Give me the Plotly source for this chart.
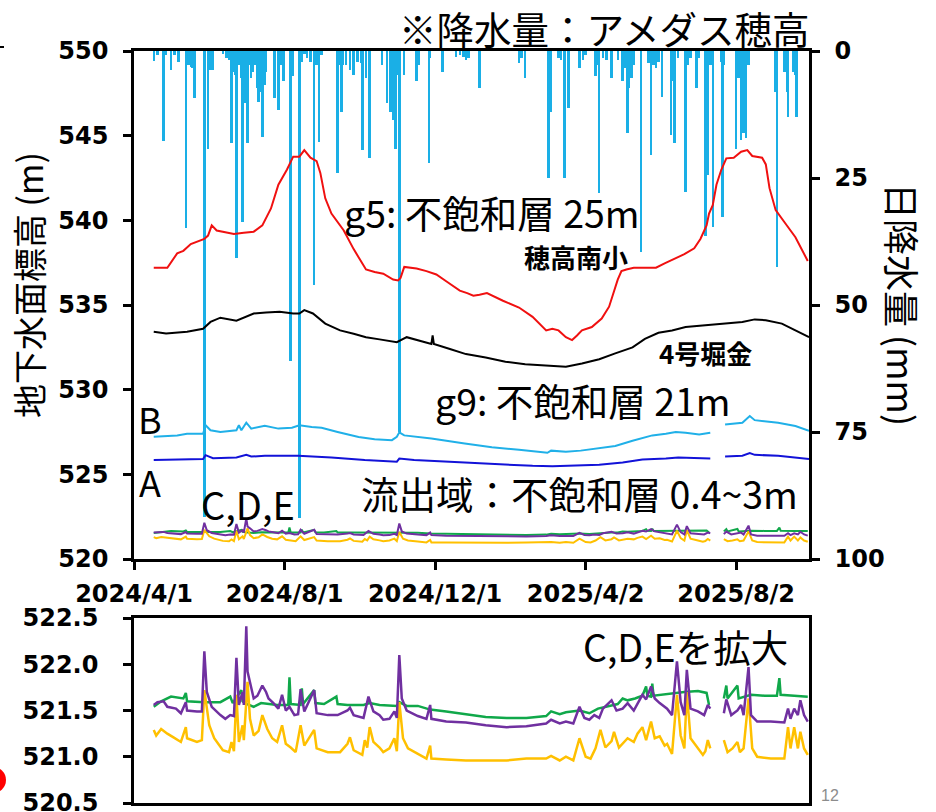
import pandas as pd
import plotly.graph_objects as go

START = pd.Timestamp("2024-04-01")
END_DAY = 547


def to_dates(days):
    return [START + pd.Timedelta(days=d) for d in days]


# ---- daily precipitation, AMeDAS Hotaka (days since 2024-04-01, mm) ----
rain_day = [16, 19, 24, 26, 30, 33, 36, 42, 44, 46, 47, 49, 57, 60, 62, 64, 72, 75, 77, 79,
            80, 82, 83, 85, 87, 88, 90, 92, 93, 95, 96, 98, 100, 101, 103, 104, 106, 107, 114, 117,
            119, 121, 127, 129, 134, 136, 138, 140, 143, 146, 148, 150, 152, 165, 166, 168, 169, 172, 175, 178,
            181, 184, 185, 188, 191, 201, 205, 208, 210, 212, 213, 215, 219, 229, 231, 239, 240, 250, 261, 264,
            267, 269, 271, 280, 312, 314, 317, 336, 338, 344, 346, 349, 352, 361, 364, 366, 374, 375, 377, 380,
            383, 387, 392, 396, 398, 400, 401, 403, 405, 411, 417, 419, 421, 423, 425, 428, 435, 437, 438, 441,
            447, 449, 451, 456, 458, 463, 465, 467, 469, 476, 477, 478, 488, 490, 492, 494, 496, 498, 520, 521,
            527, 529, 530, 534, 536, 537]
rain_mm = [2.0, 0.8, 17.8, 0.8, 3.7, 0.7, 2.1, 34.8, 2.8, 3.1, 3.4, 9.2, 91.7, 19.2, 3.7, 3.7, 0.5, 1.4, 1.8, 18.2,
           4.1, 4.7, 40.8, 2.8, 5.4, 33.6, 10.3, 18.2, 2.8, 5.4, 4.1, 2.8, 7.3, 10.0, 8.0, 17.0, 6.7, 4.1, 9.3, 11.6,
           2.8, 6.0, 61.0, 5.0, 92.0, 2.1, 0.5, 1.4, 2.1, 46.0, 2.8, 18.0, 0.8, 24.0, 2.8, 12.0, 2.8, 2.8, 3.7, 4.7,
           2.1, 2.4, 19.5, 5.4, 21.1, 2.8, 10.3, 12.0, 13.6, 19.2, 4.7, 75.0, 4.7, 6.0, 2.8, 22.1, 1.4, 4.1, 1.1, 0.8,
           1.1, 1.8, 1.4, 7.3, 2.4, 1.4, 5.4, 25.0, 12.0, 1.4, 1.8, 25.0, 11.3, 3.4, 1.8, 0.8, 5.0, 2.8, 28.0, 1.4,
           1.8, 5.4, 1.8, 6.0, 3.4, 16.2, 7.3, 5.4, 2.8, 39.5, 2.4, 20.5, 2.8, 3.4, 2.1, 9.0, 16.5, 6.0, 18.2, 1.4,
           27.7, 2.8, 1.4, 7.3, 1.4, 36.5, 24.4, 2.8, 34.6, 2.1, 32.6, 2.8, 19.2, 5.4, 17.5, 16.2, 17.2, 2.8, 8.0, 42.5,
           4.1, 8.0, 12.9, 4.1, 4.7, 12.9]

# ---- g5 (unsaturated zone 25 m, Hotaka-minami elementary school) ----
g5_day = [16, 27, 35, 40, 46, 57, 60, 63, 67, 81, 89, 97, 104, 111, 117, 124, 129, 134, 138, 143,
          148, 151, 155, 160, 170, 178, 188, 195, 202, 210, 214, 216, 219, 229, 237, 245, 253, 264, 270, 275,
          280, 286, 299, 312, 323, 334, 339, 344, 350, 355, 359, 363, 371, 379, 385, 389, 392, 395, 399, 405,
          415, 423, 430, 438, 446, 454, 459, 464, 466, 469, 472, 476, 480, 486, 492, 497, 501, 509, 512, 515,
          520, 527, 536, 546]
g5_lvl = [537.2, 537.2, 538.05, 538.2, 538.6, 538.9, 539.1, 539.7, 539.4, 539.2, 539.27, 539.33, 539.7, 540.7, 542.1, 543.0, 543.76, 543.76, 544.15, 543.7,
          543.5, 542.8, 541.3, 540.4, 539.4, 538.3, 537.1, 536.95, 536.85, 536.5, 536.45, 536.6, 537.25, 537.15, 537.0, 536.8, 536.4, 535.85, 535.7, 535.55,
          535.6, 535.7, 535.25, 534.85, 534.3, 533.5, 533.6, 533.5, 533.1, 532.93, 533.2, 533.5, 533.7, 534.2, 534.9, 535.8, 536.5, 537.0, 537.1, 537.2,
          537.2, 537.2, 537.46, 537.75, 538.0, 538.35, 538.9, 539.7, 540.4, 540.9, 542.1, 543.0, 543.66, 543.7, 544.05, 544.15, 543.8, 543.7, 543.3, 541.9,
          540.6, 539.9, 539.0, 537.6]

# ---- g9 (unsaturated zone 21 m, Route 4 Horigane) ----
g9_day = [16, 26, 43, 56, 62, 70, 83, 97, 107, 118, 129, 134, 138, 145, 155, 167, 178, 188, 199, 213,
          221, 232, 241, 242, 243, 256, 269, 285, 301, 317, 334, 350, 363, 377, 390, 404, 414, 425, 436, 447,
          463, 479, 493, 503, 512, 525, 536, 547]
g9_lvl = [533.42, 533.32, 533.42, 533.6, 534.0, 534.25, 534.07, 534.5, 534.56, 534.6, 534.5, 534.5, 534.7, 534.5, 533.9, 533.5, 533.3, 533.1, 532.97, 532.8,
          533.1, 532.9, 532.7, 533.2, 532.7, 532.4, 532.1, 531.9, 531.65, 531.5, 531.4, 531.35, 531.55, 531.8, 532.14, 532.5, 533.0, 533.36, 533.5, 533.7,
          533.8, 533.9, 534.0, 534.15, 534.1, 533.9, 533.5, 533.1]

# ---- B ----
b_day = [16, 35, 43, 56, 58, 62, 70, 83, 85, 87, 91, 95, 106, 117, 128, 134, 144, 152, 165, 182,
         195, 209, 213, 215, 219, 241, 268, 290, 312, 335, 338, 350, 362, 377, 390, 404, 420, 431, 439, 447,
         458, 467, 472, 479, 493, 499, 503, 522, 536, 547]
b_lvl = [527.22, 527.3, 527.4, 527.4, 527.9, 527.6, 527.5, 527.6, 527.9, 527.6, 528.05, 527.7, 527.87, 527.7, 527.75, 527.9, 527.8, 527.75, 527.5, 527.2,
         527.07, 527.02, 527.22, 527.48, 527.3, 527.12, 526.82, 526.6, 526.45, 526.27, 526.4, 526.33, 526.4, 526.53, 526.67, 526.98, 527.3, 527.4, 527.5, 527.45,
         527.35, 527.45, None, 527.95, 528.05, 528.44, 528.2, 528.05, 527.85, 527.57]

# ---- A ----
a_day = [16, 43, 56, 58, 64, 83, 91, 95, 106, 133, 160, 187, 213, 215, 227, 268, 296, 323, 339, 358,
         377, 396, 412, 431, 441, 467, 472, 479, 493, 499, 503, 522, 547]
a_lvl = [525.84, 525.87, 525.9, 526.13, 525.95, 526.0, 526.15, 526.05, 526.1, 526.1, 526.0, 525.84, 525.75, 525.93, 525.84, 525.7, 525.59, 525.5, 525.47, 525.5,
         525.56, 525.7, 525.88, 525.94, 526.0, 525.94, None, 526.05, 526.1, 526.25, 526.15, 526.1, 525.9]

# ---- C (green) ----
c_day = [16, 22, 30, 40, 42, 43, 57, 70, 78, 80, 87, 88, 90, 97, 103, 108, 116, 125, 126, 127,
         135, 136, 137, 146, 147, 154, 164, 165, 173, 186, 191, 199, 213, 215, 221, 230, 240, 253, 269, 285,
         302, 318, 334, 338, 345, 350, 361, 369, 376, 387, 392, 396, 400, 406, 412, 415, 416, 419, 420, 421,
         433, 446, 457, 464, 466, 472, 478, 480, 481, 489, 490, 500, 511, 521, 523, 524, 535, 546]
c_lvl = [521.54, 521.6, 521.65, 521.63, 521.69, 521.6, 521.59, 521.59, 521.65, 521.58, 521.72, 521.6, 521.58, 521.54, 521.58, 521.57, 521.56, 521.56, 521.86, 521.57,
         521.56, 521.74, 521.57, 521.72, 521.58, 521.57, 521.65, 521.57, 521.56, 521.56, 521.58, 521.56, 521.55, 521.59, 521.55, 521.55, 521.51, 521.49, 521.46, 521.43,
         521.42, 521.42, 521.44, 521.49, 521.46, 521.48, 521.5, 521.47, 521.52, 521.56, 521.57, 521.63, 521.61, 521.63, 521.66, 521.76, 521.66, 521.65, 521.79, 521.66,
         521.68, 521.7, 521.71, 521.69, 521.56, None, 521.63, 521.77, 521.63, 521.77, 521.63, 521.67, 521.66, 521.66, 521.85, 521.67, 521.66, 521.65]

# ---- D (purple) ----
d_day = [16, 19, 24, 27, 34, 38, 42, 43, 51, 55, 57, 59, 63, 70, 74, 78, 81, 83, 85, 88,
         89, 91, 92, 94, 97, 100, 104, 107, 109, 113, 117, 120, 123, 126, 130, 133, 135, 138, 146, 148,
         157, 165, 173, 175, 178, 186, 190, 194, 199, 202, 207, 211, 213, 215, 217, 221, 230, 237, 240, 241,
         253, 269, 285, 302, 318, 334, 338, 345, 350, 356, 361, 365, 369, 373, 377, 380, 387, 391, 396, 400,
         405, 412, 415, 419, 422, 426, 432, 436, 440, 443, 446, 448, 451, 457, 462, 465, 467, 472, 478, 480,
         484, 489, 492, 494, 498, 500, 505, 516, 527, 530, 532, 535, 538, 540, 543, 546]
d_lvl = [521.56, 521.59, 521.6, 521.54, 521.52, 521.47, 521.59, 521.5, 521.49, 521.49, 522.14, 521.7, 521.54, 521.45, 521.41, 521.45, 521.44, 522.07, 521.56, 521.7,
         521.56, 522.41, 521.92, 521.81, 521.63, 521.66, 521.77, 521.7, 521.63, 521.58, 521.52, 521.67, 521.5, 521.54, 521.45, 521.46, 521.73, 521.49, 521.72, 521.47,
         521.45, 521.45, 521.5, 521.53, 521.45, 521.42, 521.65, 521.49, 521.45, 521.4, 521.41, 521.49, 521.42, 522.1, 521.63, 521.5, 521.44, 521.41, 521.56, 521.41,
         521.38, 521.37, 521.34, 521.32, 521.33, 521.36, 521.4, 521.36, 521.38, 521.36, 521.54, 521.42, 521.4, 521.45, 521.42, 521.52, 521.61, 521.5, 521.52, 521.58,
         521.5, 521.67, 521.62, 521.76, 521.63, 521.58, 521.52, 521.45, 522.03, 521.59, 521.45, 521.94, 521.52, 521.49, 521.45, 521.56, 521.52, None, 521.47, 521.62,
         521.45, 521.5, 521.56, 521.45, 521.97, 521.45, 521.38, 521.38, 521.37, 521.52, 521.41, 521.52, 521.45, 521.61, 521.45, 521.38]

# ---- E (yellow) ----
e_day = [16, 18, 22, 27, 32, 38, 42, 43, 51, 55, 57, 61, 65, 72, 77, 79, 81, 83, 85, 88,
         89, 92, 94, 97, 101, 104, 108, 112, 116, 120, 123, 127, 131, 135, 138, 146, 148, 157, 167, 173,
         175, 178, 185, 187, 189, 191, 194, 199, 202, 207, 211, 213, 215, 218, 222, 230, 237, 240, 241, 253,
         269, 285, 302, 318, 334, 338, 345, 350, 356, 361, 366, 370, 374, 378, 382, 387, 389, 393, 400, 405,
         408, 412, 415, 419, 422, 426, 430, 432, 436, 440, 443, 446, 448, 451, 457, 461, 463, 465, 467, 472,
         478, 481, 485, 489, 491, 494, 498, 501, 505, 516, 527, 530, 532, 535, 538, 540, 543, 546]
e_lvl = [521.29, 521.23, 521.3, 521.25, 521.21, 521.16, 521.32, 521.2, 521.16, 521.18, 521.72, 521.34, 521.2, 521.07, 521.05, 521.16, 521.06, 521.67, 521.16, 521.34,
         521.18, 521.81, 521.41, 521.23, 521.28, 521.45, 521.3, 521.2, 521.16, 521.34, 521.14, 521.1, 521.05, 521.34, 521.12, 521.29, 521.09, 521.05, 521.05, 521.14,
         521.21, 521.07, 521.02, 521.18, 521.1, 521.32, 521.16, 521.1, 521.05, 521.09, 521.2, 521.06, 521.59, 521.2, 521.09, 521.03, 520.98, 521.12, 520.98, 520.97,
         520.96, 520.96, 520.96, 520.98, 520.98, 521.01, 520.96, 521.0, 520.96, 521.2, 521.0, 520.98, 521.09, 521.29, 521.1, 521.17, 521.27, 521.1, 521.2, 521.16,
         521.25, 521.32, 521.18, 521.38, 521.2, 521.22, 521.12, 521.14, 521.03, 521.67, 521.23, 521.09, 521.7, 521.2, 521.09, 521.02, 521.06, 521.18, 521.09, None,
         521.18, 521.05, 521.09, 521.16, 521.05, 521.09, 521.63, 521.09, 521.0, 520.98, 520.98, 521.32, 521.09, 521.32, 521.09, 521.27, 521.09, 521.02]

tick_dates = ["2024-04-01", "2024-08-01", "2024-12-01", "2025-04-02", "2025-08-02"]
tick_text = ["2024/4/1", "2024/8/1", "2024/12/1", "2025/4/2", "2025/8/2"]

# ---- styling ----
W, H = 936, 812
RAIN_COLOR = "#1AAFE6"
COLORS = {"g5": "#F01010", "g9": "#000000", "B": "#20B0E8", "A": "#1212D8",
          "C": "#10A84A", "D": "#7030A0", "E": "#FFC000"}
JP = "Noto Sans CJK JP"
TICK_FONT = dict(family="DejaVu Sans", size=24, color="black", weight="bold")


def px(x):
    return x / W


def py(y):
    return 1 - y / H


x_dom = [px(134), px(809)]
x_range = [START, START + pd.Timedelta(days=END_DAY)]

fig = go.Figure()

# precipitation bars hang from the top of the upper panel
fig.add_trace(go.Bar(x=to_dates(rain_day), y=rain_mm, xaxis="x", yaxis="y",
                     marker=dict(color=RAIN_COLOR, line=dict(width=0)),
                     width=2.0 * 86400000, showlegend=False))

series = [("g5", g5_day, g5_lvl), ("g9", g9_day, g9_lvl), ("B", b_day, b_lvl), ("A", a_day, a_lvl),
          ("C", c_day, c_lvl), ("E", e_day, e_lvl), ("D", d_day, d_lvl)]
for name, days, lvl in series:
    fig.add_trace(go.Scatter(x=to_dates(days), y=lvl, mode="lines", xaxis="x", yaxis="y2",
                             line=dict(color=COLORS[name], width=2), connectgaps=False,
                             showlegend=False))

# enlarged view of C, D, E
for name, days, lvl in [("C", c_day, c_lvl), ("E", e_day, e_lvl), ("D", d_day, d_lvl)]:
    fig.add_trace(go.Scatter(x=to_dates(days), y=lvl, mode="lines", xaxis="x2", yaxis="y3",
                             line=dict(color=COLORS[name], width=2.5), connectgaps=False,
                             showlegend=False))

axis_common = dict(showgrid=False, zeroline=False, showline=True, linecolor="black",
                   linewidth=2.5, ticks="outside", ticklen=8, tickwidth=2.5, tickcolor="black",
                   tickfont=TICK_FONT, automargin=False, ticklabeloverflow="allow")

fig.update_layout(
    width=W, height=H, margin=dict(l=0, r=0, t=0, b=0, pad=0, autoexpand=False),
    paper_bgcolor="white", plot_bgcolor="white", bargap=0,
    xaxis=dict(domain=x_dom, anchor="y", type="date", range=x_range,
               tickvals=tick_dates, ticktext=tick_text, mirror=True,
               ticklabelstandoff=3, **axis_common),
    yaxis=dict(domain=[py(559), py(51)], anchor="x", side="right", range=[100, 0],
               tickvals=[0, 25, 50, 75, 100], ticklabelstandoff=10, **axis_common),
    yaxis2=dict(overlaying="y", anchor="x", side="left", range=[520, 550],
                tickvals=[520, 525, 530, 535, 540, 545, 550], ticklabelstandoff=10, **axis_common),
    xaxis2=dict(domain=x_dom, anchor="y3", type="date", range=x_range, showticklabels=False,
                showgrid=False, zeroline=False, showline=True, linecolor="black", linewidth=2.5,
                mirror=True, ticks="", automargin=False),
    yaxis3=dict(domain=[py(803), py(618)], anchor="x2", range=[520.5, 522.5],
                tickvals=[520.5, 521.0, 521.5, 522.0, 522.5], tickformat=".1f", mirror=True,
                ticklabelstandoff=20, **axis_common),
)


def label(text, x, y, size=37.5, xanchor="left", bold=False, angle=0, color="black", family=JP):
    fig.add_annotation(text=f"<b>{text}</b>" if bold else text, x=px(x), y=py(y),
                       xref="paper", yref="paper", xanchor=xanchor, yanchor="middle",
                       showarrow=False, textangle=angle, borderpad=0,
                       font=dict(family=family, size=size, color=color))


label("※降水量：アメダス穂高", 811, 27, xanchor="right")
label("g5: 不飽和層 25m", 343, 211)
label("穂高南小", 523, 256, size=26, bold=True)
label("4号堀金", 658, 353, size=26, bold=True)
label("g9: 不飽和層 21m", 434, 399)
label("B", 137, 418, size=36)
label("A", 138, 481, size=36)
label("C,D,E", 200, 503, size=38)
label("流出域：不飽和層 0.4~3m", 360, 492)
label("C,D,Eを拡大", 582, 645)
label("地下水面標高 (m)", 29, 285, size=34, xanchor="center", angle=-90)
label("日降水量 (mm)", 903, 304, size=36, xanchor="center", angle=90)
label("12", 830, 795, size=16, xanchor="center", color="#8C8C8C", family="Liberation Sans")

# slide marks at the left edge
fig.add_shape(type="circle", xref="paper", yref="paper", x0=px(-20), x1=px(6), y0=py(793), y1=py(767),
              fillcolor="#FF0000", line=dict(width=0))
fig.add_shape(type="line", xref="paper", yref="paper", x0=px(0), x1=px(4), y0=py(47), y1=py(47),
              line=dict(color="black", width=2))

fig.write_html("out.html")
